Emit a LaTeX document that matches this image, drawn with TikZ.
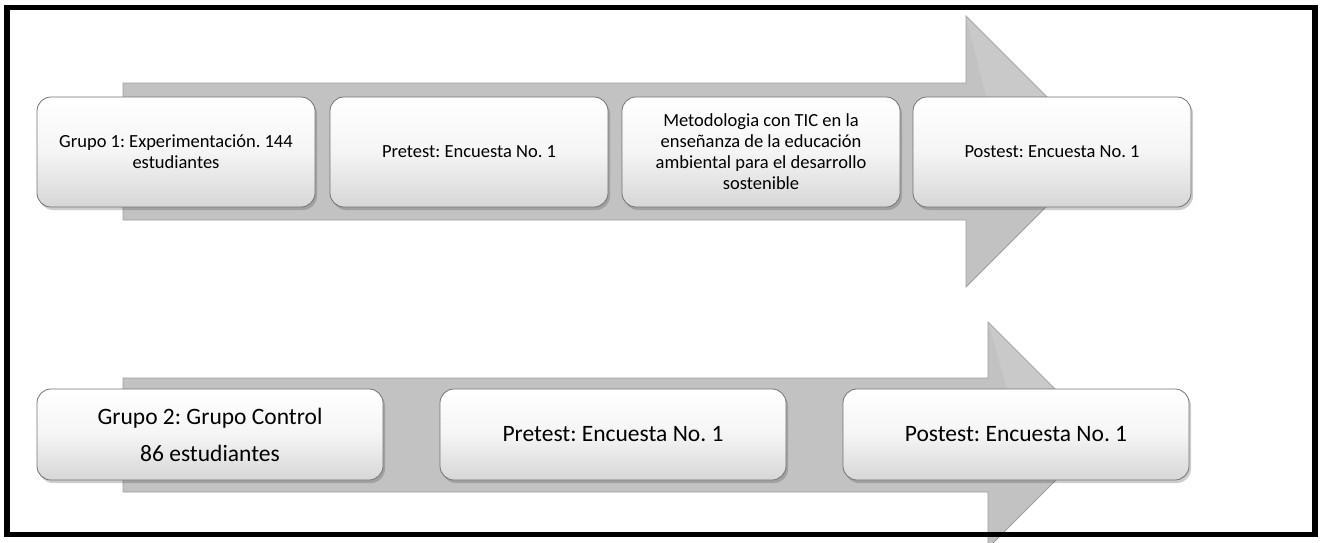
\documentclass[tikz,border=0pt]{standalone}
\usepackage{fontspec}
\setmainfont{Carlito}
\frenchspacing
\usetikzlibrary{shadows}
\begin{document}
\begin{tikzpicture}[x=1pt,y=-1pt,
  arrowshape/.style={fill=black!24,draw=black!38,line width=0.8pt,line join=miter},
  facet/.style={fill=white,fill opacity=0.12,draw=none},
  stepbox/.style={rectangle,rounded corners=14pt,draw=black!55,line width=0.8pt,
    top color=white,bottom color=black!16,middle color=black!4,
    drop shadow={shadow xshift=2pt,shadow yshift=-3pt,opacity=0.28,fill=black!70},
    align=center,inner sep=0pt,text=black},
  small/.style={stepbox,minimum width=278pt,minimum height=110pt,font=\fontsize{18.5}{21}\selectfont},
  large/.style={stepbox,minimum width=346pt,minimum height=91pt,font=\fontsize{23.5}{37}\selectfont}]
\useasboundingbox (0,0) rectangle (1320,542);
\begin{scope}
\clip (0,0) rectangle (1320,542);
% arrows
\draw[arrowshape] (123,83) -- (966,83) -- (966,16) -- (1101.5,151.5) -- (966,287) -- (966,220) -- (123,220) -- cycle;
\fill[facet] (966,16) -- (1101.5,151.5) -- (1000,151.5) -- cycle;
\draw[arrowshape] (123,378) -- (988,378) -- (988,322) -- (1101,435) -- (988,548) -- (988,492) -- (123,492) -- cycle;
\fill[facet] (988,322) -- (1101,435) -- (1020,435) -- cycle;
% frame
\draw[line width=5.5pt] (7,7.5) rectangle (1315,534.5);
\end{scope}
% top row
\node[small] (g1) at (176,152) {Grupo 1: Experimentación. 144\\estudiantes};
\node[small] (pre1) at (469,152) {Pretest: Encuesta No. 1};
\node[small] (met) at (761,152) {Metodologia con TIC en la\\enseñanza de la educación\\ambiental para el desarrollo\\sostenible};
\node[small] (post1) at (1052,152) {Postest: Encuesta No. 1};
% bottom row
\node[large] (g2) at (210,434.5) {Grupo 2: Grupo Control\\86 estudiantes};
\node[large] (pre2) at (613,434.5) {Pretest: Encuesta No. 1};
\node[large] (post2) at (1016,434.5) {Postest: Encuesta No. 1};
\end{tikzpicture}
\end{document}
